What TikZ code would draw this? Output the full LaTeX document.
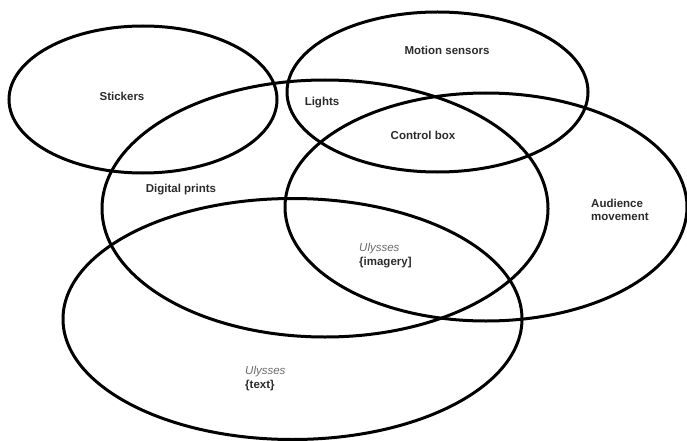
\documentclass[tikz,border=0pt]{standalone}
\usepackage{fontspec}
\setmainfont{Liberation Sans}
\definecolor{txt}{HTML}{2B2B2B}
\definecolor{itl}{HTML}{6A6A6A}
\begin{document}
\begin{tikzpicture}[x=1pt,y=-1pt,
  ring/.style={line width=3pt,draw=black},
  lbl/.style={font=\fontsize{11.5}{13.5}\selectfont\bfseries,text=txt,inner sep=0pt},
  lbll/.style={lbl,align=left,anchor=west},
  ital/.style={font=\fontsize{11.5}{13.5}\selectfont\itshape,text=itl}]
\useasboundingbox (0,0) rectangle (687,441);
% ellipses
\draw[ring] (143,99.5) ellipse [x radius=134,y radius=73.5];
\draw[ring] (437.5,92) ellipse [x radius=150.5,y radius=80];
\draw[ring] (325,208.5) ellipse [x radius=223,y radius=128.5];
\draw[ring] (486,207) ellipse [x radius=201,y radius=114];
\draw[ring] (292.5,319) ellipse [x radius=229.5,y radius=120.5];
% labels
\node[lbl] (stk) at (122,96) {Stickers};
\node[lbl] (lgt) at (322,103) {Lights};
\node[lbl] (mot) at (447,50) {Motion sensors};
\node[lbl] (ctl) at (423,135) {Control box};
\node[lbl] (dig) at (181,190) {Digital prints};
\node[lbll] (aud) at (591,210) {Audience\\movement};
\node[lbll] (img) at (359,255.5) {{\mdseries\color{itl}\itshape Ulysses}\\\{imagery]};
\node[lbll] (txt) at (245,378.5) {{\mdseries\color{itl}\itshape Ulysses}\\\{text\}};
\end{tikzpicture}
\end{document}
